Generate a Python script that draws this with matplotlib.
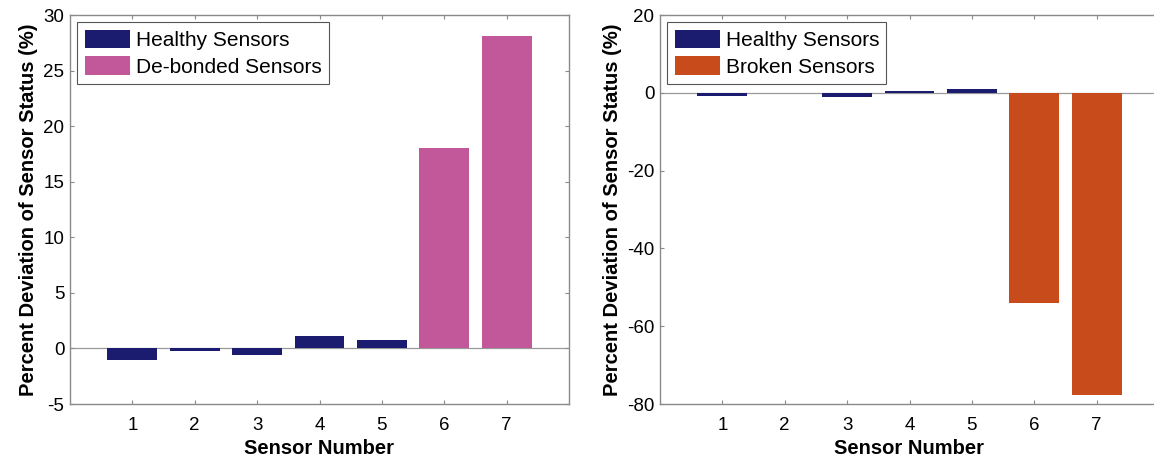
import matplotlib.pyplot as plt
import numpy as np

plt.rcParams['font.family'] = ['Liberation Sans', 'DejaVu Sans']
plt.rcParams['axes.unicode_minus'] = False

# sensor numbers
sensors = [1, 2, 3, 4, 5, 6, 7]

# left panel: de-bonded sensors
healthy_left = [-1.0, -0.2, -0.6, 1.1, 0.75]
debonded = [18.0, 28.1]

# right panel: broken sensors
healthy_right = [-0.7, -0.1, -1.0, 0.5, 1.0]
broken = [-54.0, -77.8]

navy = '#1b1b70'
pink = '#c2579a'
orange = '#c84b1c'
spine_col = '#8a8a8a'

fig = plt.figure(figsize=(11.54, 4.61), dpi=100)
ax1 = fig.add_axes([70/1154, 57/461, 499/1154, 389/461])
ax2 = fig.add_axes([660/1154, 57/461, 499/1154, 389/461])


def style(ax, ylim, yticks):
    ax.set_xlim(0, 8)
    ax.set_ylim(*ylim)
    ax.set_xticks(sensors)
    ax.set_yticks(yticks)
    ax.tick_params(direction='in', length=3, width=0.8, color=spine_col,
                   labelsize=13.5, top=True, right=True)
    ax.tick_params(axis='x', pad=9)
    ax.tick_params(axis='y', pad=4)
    for s in ax.spines.values():
        s.set_color(spine_col)
        s.set_linewidth(1.0)
    ax.axhline(0, color='#999999', lw=0.9, zorder=1)
    ax.set_xlabel('Sensor Number', fontsize=14.5, fontweight='bold', labelpad=4)
    ax.set_ylabel('Percent Deviation of Sensor Status (%)', fontsize=14.5,
                  fontweight='bold', labelpad=4)


ax1.bar(sensors[:5], healthy_left, width=0.8, color=navy, zorder=2,
        label='Healthy Sensors')
ax1.bar(sensors[5:], debonded, width=0.8, color=pink, zorder=2,
        label='De-bonded Sensors')
style(ax1, (-5, 30), [-5, 0, 5, 10, 15, 20, 25, 30])

ax2.bar(sensors[:5], healthy_right, width=0.8, color=navy, zorder=2,
        label='Healthy Sensors')
ax2.bar(sensors[5:], broken, width=0.8, color=orange, zorder=2,
        label='Broken Sensors')
style(ax2, (-80, 20), [-80, -60, -40, -20, 0, 20])

for ax in (ax1, ax2):
    leg = ax.legend(loc='upper left', fontsize=15, fancybox=False,
                    edgecolor='#555555', framealpha=1, borderaxespad=0.35,
                    handlelength=2.2, handleheight=1.0, handletextpad=0.25,
                    labelspacing=0.3, borderpad=0.35)
    leg.get_frame().set_linewidth(0.8)

fig.savefig('out.png', dpi=100)
